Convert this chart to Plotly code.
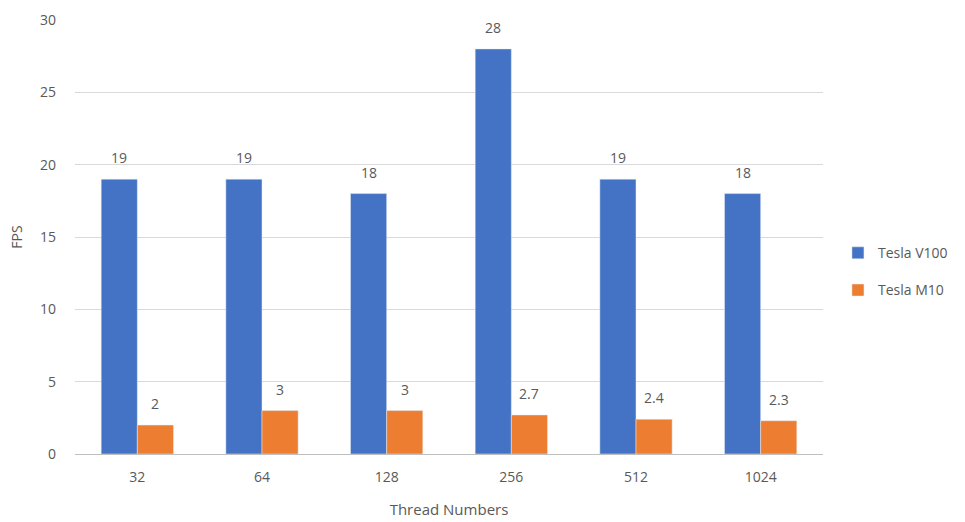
import plotly.graph_objects as go

categories = ["32", "64", "128", "256", "512", "1024"]
v100 = [19, 19, 18, 28, 19, 18]
m10 = [2, 3, 3, 2.7, 2.4, 2.3]

font_family = "Open Sans, Liberation Sans, sans-serif"
txt_color = "#595959"

W, H = 965, 522
ML, MR, MT, MB = 75, 139, 20, 68
BARGAP = 0.42
plot_w = W - ML - MR
cat_w = plot_w / len(categories)
bar_w = cat_w * (1 - BARGAP) / 2

fig = go.Figure()
fig.add_trace(go.Bar(x=categories, y=v100, name="Tesla V100", marker_color="#4472C4", legendgroup="a"))
fig.add_trace(go.Bar(x=categories, y=m10, name="Tesla M10", marker_color="#ED7D31", legendgroup="b"))

for vals, sign in ((v100, -1), (m10, 1)):
    for i, v in enumerate(vals):
        fig.add_annotation(
            x=i, y=v, xref="x", yref="y", text=str(v), showarrow=False,
            xanchor="center", yanchor="bottom", xshift=sign * bar_w / 2, yshift=10,
            font=dict(size=14, color=txt_color, family=font_family),
        )

fig.update_layout(
    width=W, height=H,
    margin=dict(l=ML, r=MR, t=MT, b=MB),
    paper_bgcolor="white", plot_bgcolor="white",
    barmode="group", bargap=BARGAP, bargroupgap=0,
    font=dict(family=font_family, size=14, color=txt_color),
    showlegend=True,
    legend=dict(x=1.02, y=0.42, yanchor="middle", xanchor="left",
                font=dict(size=14, color=txt_color), tracegroupgap=16,
                itemwidth=30),
)
fig.update_xaxes(
    type="category", range=[-0.5, len(categories) - 0.5], automargin=False,
    title=dict(text="Thread Numbers", standoff=19, font=dict(size=15, color=txt_color)),
    showline=True, linecolor="#BFBFBF", linewidth=1, ticks="", showgrid=False,
    ticklabelstandoff=10,
    tickfont=dict(size=14, color=txt_color),
)
fig.update_yaxes(
    automargin=False,
    title=dict(text="FPS", standoff=14, font=dict(size=14, color=txt_color)),
    range=[0, 30], dtick=5, showgrid=True, gridcolor="#D9D9D9", gridwidth=1,
    zeroline=False, showline=False, ticks="", ticklabelstandoff=18,
    tickfont=dict(size=14, color=txt_color),
)

fig.write_html("out.html")
